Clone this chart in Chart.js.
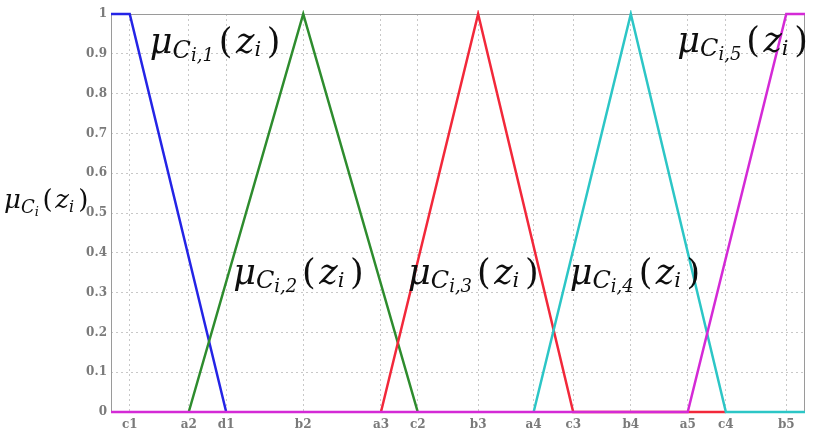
<!DOCTYPE html>
<html>
<head>
<meta charset="utf-8">
<script src="https://cdn.jsdelivr.net/npm/chart.js@4/dist/chart.umd.min.js"></script>
<style>
  html, body { margin: 0; padding: 0; background: #fff; overflow: hidden; }
  #w { width: 815px; height: 444px; }
</style>
</head>
<body>
<div id="w"><canvas id="myChart" width="815" height="444"></canvas></div>
<script>
// tick positions on the z axis (domain 0..100) and their names
var xTickValues = [2.7, 11.2, 16.6, 27.7, 38.9, 44.2, 52.9, 60.9, 66.6, 74.9, 83.1, 88.6, 97.3]
var xTickLabels = ['c1', 'a2', 'd1', 'b2', 'a3', 'c2', 'b3', 'a4', 'c3', 'b4', 'a5', 'c4', 'b5']
var yTickValues = [0, 0.1, 0.2, 0.3, 0.4, 0.5, 0.6, 0.7, 0.8, 0.9, 1]

// membership functions, break points
var mu1X = [0, 2.7, 16.6]
var mu1Y = [1, 1, 0]
var mu2X = [11.2, 27.7, 44.2]
var mu2Y = [0, 1, 0]
var mu3X = [38.9, 52.9, 66.6, 88.6]
var mu3Y = [0, 1, 0, 0]
var mu4X = [60.9, 74.9, 88.6, 100]
var mu4Y = [0, 1, 0, 0]
var mu5X = [0, 83.1, 97.3, 100]
var mu5Y = [0, 0, 1, 1]

var serieNames = ['1', '2', '3', '4', '5']

function pts(xs, ys) {
    var out = []
    for (var i = 0; i < xs.length; i++) out.push({ x: xs[i], y: ys[i] })
    return out
}

// writes mu_{C_{sub}}(z_i) piece by piece
function drawMu(ctx, x, y, size, sub, dys) {
    var fam = '"DejaVu Serif"'
    // text, size factor, dy factor, italic, gap after (factor)
    var parts = [
        ['μ', 1, 0, true, 0.0],
        ['C', 0.68, dys[0], true, 0.0],
        [sub, 0.5, dys[1], true, 0.14],
        ['(', 1, 0, false, 0.1],
        ['z', 1, 0, true, 0.0],
        ['i', 0.6, dys[2], true, 0.16],
        [')', 1, 0, false, 0]
    ]
    ctx.save()
    ctx.fillStyle = '#0e0e0e'
    ctx.textBaseline = 'alphabetic'
    ctx.textAlign = 'left'
    parts.forEach(p => {
        ctx.font = (p[3] ? 'italic ' : '') + Math.round(size * p[1]) + 'px ' + fam
        ctx.fillText(p[0], x, y + p[2] * size)
        x += ctx.measureText(p[0]).width + p[4] * size
    })
    ctx.restore()
}

var labelsPlugin = {
    id: 'muLabels',
    beforeDatasetsDraw(chart) {
        var a = chart.chartArea
        var ctx = chart.ctx
        ctx.save()
        ctx.strokeStyle = '#9a9a9a'
        ctx.lineWidth = 1
        ctx.strokeRect(a.left + 0.5, a.top + 0.5, a.right - a.left - 1, a.bottom - a.top - 1)
        ctx.restore()
    },
    afterDraw(chart) {
        var xs = chart.scales.x
        var ys = chart.scales.y
        var ctx = chart.ctx
        var d = [0.13, 0.22, 0.08]
        drawMu(ctx, xs.getPixelForValue(5.6), ys.getPixelForValue(0.902), 35, 'i,' + serieNames[0], d)
        drawMu(ctx, xs.getPixelForValue(17.6), ys.getPixelForValue(0.322), 35, 'i,' + serieNames[1], d)
        drawMu(ctx, xs.getPixelForValue(42.8), ys.getPixelForValue(0.322), 35, 'i,' + serieNames[2], d)
        drawMu(ctx, xs.getPixelForValue(66.1), ys.getPixelForValue(0.322), 35, 'i,' + serieNames[3], d)
        drawMu(ctx, xs.getPixelForValue(81.6), ys.getPixelForValue(0.905), 35, 'i,' + serieNames[4], d)
        // y axis title
        drawMu(ctx, 4, ys.getPixelForValue(0.5) - 5, 26, 'i', [0.2, 0.3, 0.16])
    }
}

var tickFont = { family: '"DejaVu Serif"', size: 12, weight: 'bold' }

function mkSet(data, color, order) {
    return {
        data: data,
        borderColor: color,
        backgroundColor: color,
        borderWidth: 2.5,
        pointRadius: 0,
        tension: 0,
        clip: 4,
        order: order
    }
}

var ctx = document.getElementById('myChart').getContext('2d')
var myChart = new Chart(ctx, {
    type: 'line',
    data: {
        datasets: [
            mkSet(pts(mu1X, mu1Y), '#2424e6', 5),
            mkSet(pts(mu2X, mu2Y), '#2e8c2e', 4),
            mkSet(pts(mu3X, mu3Y), '#f2283a', 3),
            mkSet(pts(mu4X, mu4Y), '#2cc6c6', 2),
            mkSet(pts(mu5X, mu5Y), '#d42ad6', 1)
        ]
    },
    plugins: [labelsPlugin],
    options: {
        responsive: false,
        animation: false,
        events: [],
        layout: { padding: { top: 14, right: 10, left: 0, bottom: 0 } },
        plugins: { legend: { display: false }, tooltip: { enabled: false } },
        scales: {
            x: {
                type: 'linear',
                min: 0,
                max: 100,
                afterBuildTicks: function (scale) {
                    scale.ticks = xTickValues.map(v => ({ value: v }))
                },
                afterFit: function (scale) { scale.height = 32 },
                ticks: {
                    autoSkip: false,
                    maxRotation: 0,
                    padding: 6,
                    color: '#7a7a7a',
                    font: tickFont,
                    callback: function (v, i) { return xTickLabels[i] }
                },
                grid: { color: '#c8c8c8', drawTicks: false },
                border: { display: false, dash: [2, 3] }
            },
            y: {
                min: 0,
                max: 1,
                afterBuildTicks: function (scale) {
                    scale.ticks = yTickValues.map(v => ({ value: v }))
                },
                afterFit: function (scale) { scale.width = 111 },
                ticks: {
                    padding: 4,
                    color: '#7a7a7a',
                    font: tickFont,
                    callback: function (v) {
                        if (v === 0) return '0'
                        if (v === 1) return '1'
                        return v.toFixed(1)
                    }
                },
                grid: { color: '#c8c8c8', drawTicks: false },
                border: { display: false, dash: [2, 3] }
            }
        }
    }
})
</script>
</body>
</html>
